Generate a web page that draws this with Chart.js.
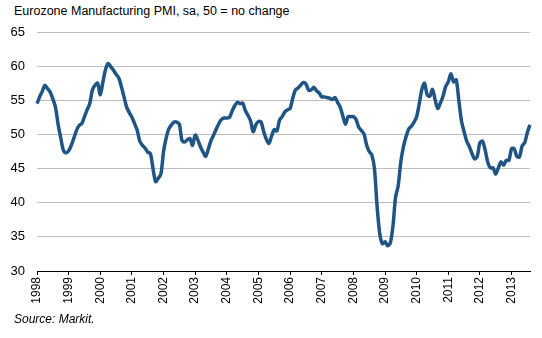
<!DOCTYPE html>
<html>
<head>
<meta charset="utf-8">
<script src="https://cdn.jsdelivr.net/npm/chart.js@4.4.1/dist/chart.umd.min.js"></script>
<style>
  html, body { margin: 0; padding: 0; background: #fff; }
  #wrap { position: relative; width: 542px; height: 338px; font-family: "Liberation Sans", Arial, sans-serif; }
  #title { position: absolute; left: 14px; top: 4px; font-size: 12.5px; color: #000; white-space: nowrap; }
  #source { position: absolute; left: 14px; top: 312px; font-size: 12px; font-style: italic; color: #000; }
  canvas { position: absolute; left: 0; top: 0; }
</style>
</head>
<body>
<div id="wrap">
  <div id="title">Eurozone Manufacturing PMI, sa, 50 = no change</div>
  <canvas id="chart" width="542" height="338"></canvas>
  <div id="source">Source: Markit.</div>
</div>
<script>
// Years shown on the axis (one tick each January)
const years = [1998, 1999, 2000, 2001, 2002, 2003, 2004, 2005, 2006, 2007, 2008, 2009, 2010, 2011, 2012, 2013];
const months = ["01", "02", "03", "04", "05", "06", "07", "08", "09", "10", "11", "12"];
const yTicks = [30, 35, 40, 45, 50, 55, 60, 65];

// Monthly PMI readings, Jan 1998 .. Aug 2013
const pmi1998 = [54.5, 55.5, 56.3, 57.2, 56.7, 56.2, 55.2, 54.0, 51.5, 49.5, 47.7, 47.3];
const pmi1999 = [47.6, 48.4, 49.5, 50.6, 51.3, 51.6, 52.6, 53.6, 54.5, 56.5, 57.2, 57.5];
const pmi2000 = [55.8, 57.7, 59.5, 60.4, 59.9, 59.4, 58.8, 58.3, 57.0, 55.5, 54.0, 53.2];
const pmi2001 = [52.5, 51.6, 50.6, 49.0, 48.4, 48.0, 47.4, 47.2, 45.0, 43.1, 43.6, 44.2];
const pmi2002 = [47.5, 49.5, 50.8, 51.4, 51.8, 51.8, 51.5, 49.1, 48.9, 49.2, 49.4, 48.4];
const pmi2003 = [49.9, 49.2, 48.2, 47.4, 46.8, 47.9, 49.1, 49.9, 50.8, 51.6, 52.2, 52.4];
const pmi2004 = [52.4, 52.5, 53.4, 54.2, 54.7, 54.5, 54.6, 53.5, 52.8, 52.0, 50.4, 51.4];
const pmi2005 = [51.9, 51.8, 50.4, 49.3, 48.7, 49.8, 50.7, 50.5, 52.1, 52.6, 53.3, 53.6];
const pmi2006 = [53.8, 55.3, 56.5, 56.8, 57.2, 57.6, 57.4, 56.5, 56.5, 56.9, 56.4, 56.1];
const pmi2007 = [55.5, 55.5, 55.4, 55.3, 55.1, 55.4, 54.7, 54.0, 52.7, 51.5, 52.6, 52.6];
const pmi2008 = [52.6, 52.2, 51.1, 50.6, 50.1, 48.5, 47.5, 47.0, 45.0, 39.5, 35.5, 34.0];
const pmi2009 = [34.3, 33.7, 34.1, 36.5, 40.8, 42.5, 46.0, 48.2, 49.7, 50.8, 51.2, 51.8];
const pmi2010 = [52.6, 54.5, 56.6, 57.5, 55.8, 55.6, 56.6, 55.1, 53.8, 54.6, 55.6, 57.0];
const pmi2011 = [57.7, 58.9, 57.7, 58.0, 55.0, 52.0, 50.4, 49.0, 48.2, 47.2, 46.4, 46.8];
const pmi2012 = [48.8, 49.0, 47.7, 45.9, 45.1, 45.1, 44.2, 45.1, 46.0, 45.5, 46.2, 46.2];
const pmi2013 = [47.9, 47.9, 46.8, 46.7, 48.3, 48.8, 50.3, 51.4];

const pmi = [].concat(pmi1998, pmi1999, pmi2000, pmi2001, pmi2002, pmi2003, pmi2004, pmi2005,
  pmi2006, pmi2007, pmi2008, pmi2009, pmi2010, pmi2011, pmi2012, pmi2013);

const labels = [];
years.forEach((y) => months.forEach((m) => labels.push(y + "-" + m)));
labels.length = pmi.length;

const ctx = document.getElementById("chart").getContext("2d");
new Chart(ctx, {
  type: "line",
  data: {
    labels: labels,
    datasets: [
      {
        data: pmi,
        borderColor: "#1f5585",
        borderWidth: 3.5,
        pointRadius: 0,
        tension: 0.3,
        fill: false,
      },
    ],
  },
  options: {
    responsive: false,
    animation: false,
    layout: { padding: { top: 32, right: 12, left: 0, bottom: 0 } },
    plugins: { legend: { display: false }, tooltip: { enabled: false } },
    scales: {
      x: {
        offset: false,
        afterFit: (s) => { s.height = 67; },
        border: { display: true, color: "#000", width: 1 },
        grid: { drawOnChartArea: false, drawTicks: true, tickLength: 4, color: "#000" },
        ticks: {
          autoSkip: false,
          minRotation: 90,
          maxRotation: 90,
          padding: 2,
          color: "#000",
          font: { family: "Liberation Sans", size: 12 },
          callback: (v, i) => (i % 12 === 0 ? labels[i].slice(0, 4) : null),
        },
      },
      y: {
        min: 30,
        max: 65,
        afterFit: (s) => { s.width = 37; },
        afterBuildTicks: (s) => { s.ticks = yTicks.map((v) => ({ value: v })); },
        border: { display: false },
        grid: { color: "#bfbfbf", drawTicks: false, lineWidth: 1 },
        ticks: {
          padding: 12,
          color: "#000",
          font: { family: "Liberation Sans", size: 13 },
        },
      },
    },
  },
});
</script>
</body>
</html>
